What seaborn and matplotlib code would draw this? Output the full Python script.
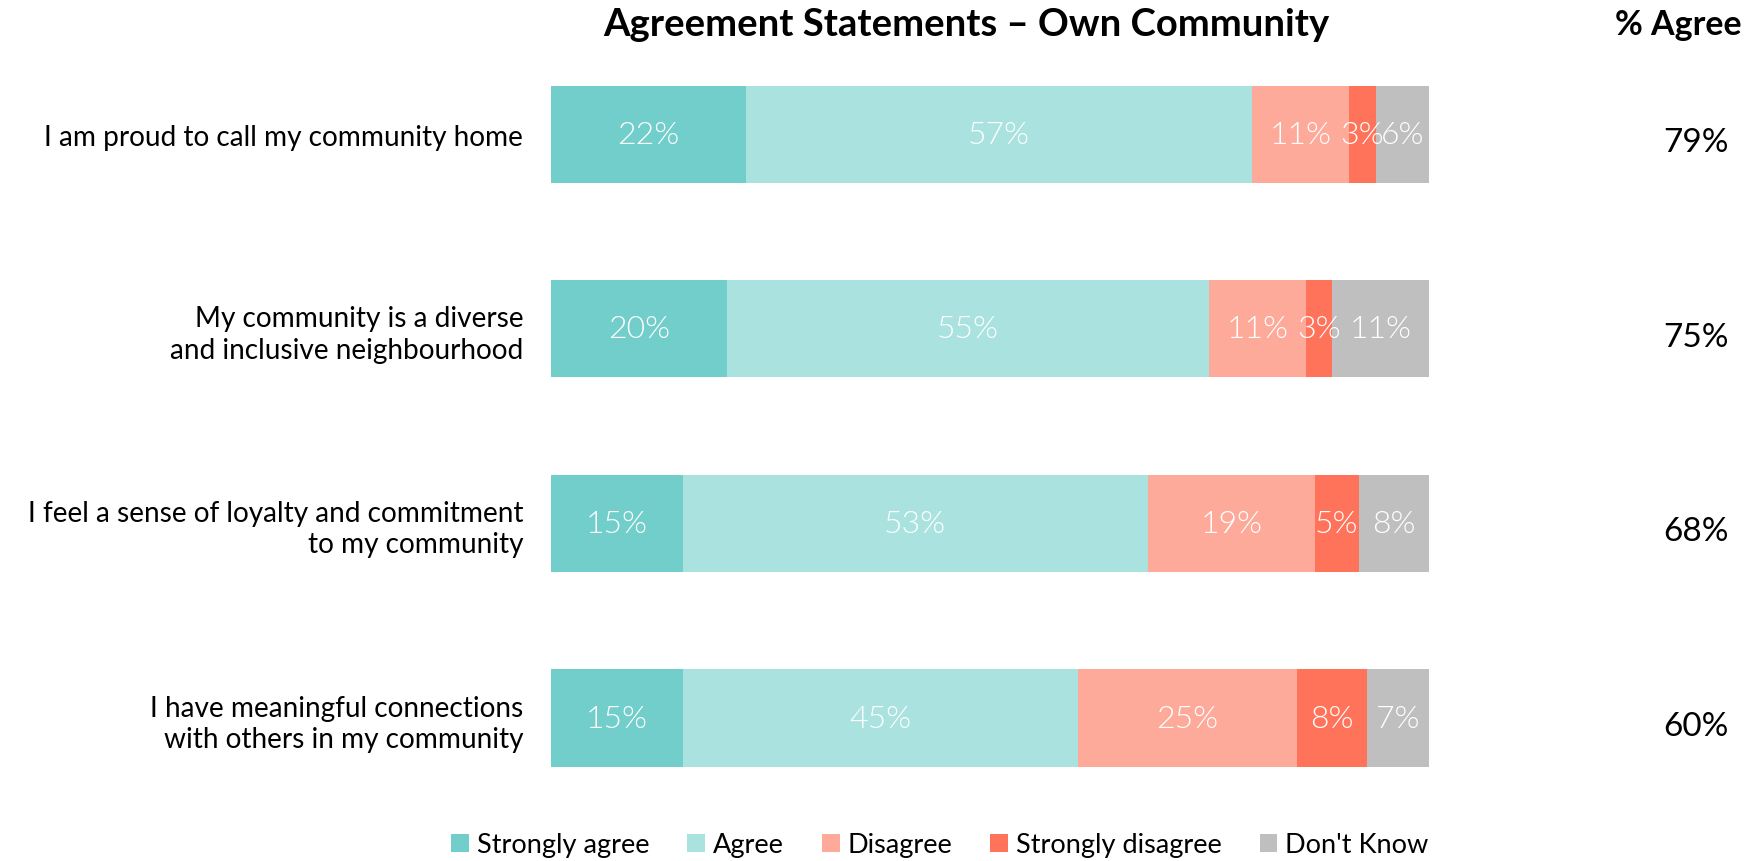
import matplotlib

matplotlib.use("Agg")
import matplotlib.pyplot as plt  # noqa: E402
import numpy as np  # noqa: E402
import pandas as pd  # noqa: E402
import seaborn as sns  # noqa: E402
from matplotlib.patches import Patch  # noqa: E402

statements = [
    "I am proud to call my community home",
    "My community is a diverse\nand inclusive neighbourhood",
    "I feel a sense of loyalty and commitment\nto my community",
    "I have meaningful connections\nwith others in my community",
]
categories = ["Strongly agree", "Agree", "Disagree", "Strongly disagree", "Don't Know"]
strongly_agree = [22, 20, 15, 15]
agree = [57, 55, 53, 45]
disagree = [11, 11, 19, 25]
strongly_disagree = [3, 3, 5, 8]
dont_know = [6, 11, 8, 7]
pct_agree = [79, 75, 68, 60]

colors = ["#72CECA", "#A9E2DE", "#FDAA9B", "#FF735A", "#BFBFBF"]

sns.set_theme(style="white")
plt.rcParams["font.family"] = ["Lato", "DejaVu Sans"]
plt.rcParams["text.color"] = "black"
plt.rcParams["ytick.color"] = "black"

df = pd.DataFrame(
    {
        "statement": statements,
        "Strongly agree": strongly_agree,
        "Agree": agree,
        "Disagree": disagree,
        "Strongly disagree": strongly_disagree,
        "Don't Know": dont_know,
    }
)
vals = df[categories].to_numpy(dtype=float)
# normalise rows so every bar spans the full width
vals = vals / vals.sum(axis=1, keepdims=True) * 100
cum = np.cumsum(vals, axis=1)

fig = plt.figure(figsize=(17.49, 8.62), dpi=100)
ax = fig.add_axes([0.315, 0.053, 0.502, 0.903])

# draw cumulative totals from the last category back so earlier ones sit on top
for j in range(len(categories) - 1, -1, -1):
    plot_df = pd.DataFrame({"statement": statements, "cum": cum[:, j]})
    sns.barplot(
        data=plot_df,
        x="cum",
        y="statement",
        orient="h",
        color=colors[j],
        saturation=1,
        width=0.5,
        linewidth=0,
        edgecolor="none",
        ax=ax,
    )

raw = df[categories].to_numpy()
for i in range(len(statements)):
    for j in range(len(categories)):
        left = cum[i, j] - vals[i, j]
        ax.text(
            left + vals[i, j] / 2,
            i,
            f"{raw[i, j]}%",
            ha="center",
            va="center",
            color="white",
            fontsize=23,
            fontweight=300,
        )

ax.set_xlim(0, 100)
ax.set_ylim(3.5, -0.5)
ax.set_xlabel("")
ax.set_ylabel("")
ax.set_xticks([])
ax.tick_params(axis="y", length=0, pad=20, labelsize=20.2)
for lbl in ax.get_yticklabels():
    lbl.set_horizontalalignment("right")
    lbl.set_linespacing(1.25)
sns.despine(ax=ax, left=True, bottom=True)

trans = ax.get_yaxis_transform()
for i, p in enumerate(pct_agree):
    ax.text(
        (1729 / 1749 - 0.315) / 0.502,
        i + 0.04,
        f"{p}%",
        transform=trans,
        ha="right",
        va="center",
        fontsize=24,
    )

fig.text(966 / 1749, 1 - 25 / 862, "Agreement Statements \u2013 Own Community",
         ha="center", va="center", fontsize=27.5, fontweight="bold")
fig.text(1742 / 1749, 1 - 25 / 862, "% Agree", ha="right", va="center",
         fontsize=24.5, fontweight="bold")

handles = [Patch(facecolor=c, edgecolor="none") for c in colors]
fig.legend(
    handles,
    categories,
    loc="center",
    bbox_to_anchor=(940 / 1749, 1 - 846 / 862),
    ncol=5,
    frameon=False,
    fontsize=19.5,
    handlelength=0.65,
    handleheight=0.65,
    handletextpad=0.3,
    columnspacing=1.4,
)

fig.savefig("out.png", dpi=100)
